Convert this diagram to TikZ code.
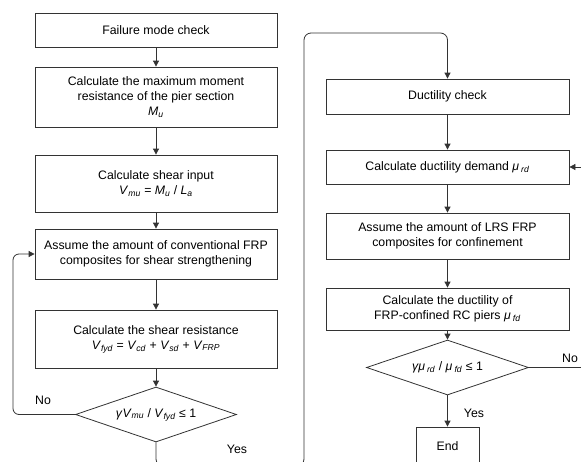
\documentclass[tikz,border=0pt]{standalone}
\usepackage{fontspec}
\setmainfont{Liberation Sans}
\usetikzlibrary{arrows.meta,shapes.geometric}
\newcommand{\iv}[2]{\textit{#1}\textsubscript{\textit{#2}}}
\begin{document}
\begin{tikzpicture}[x=1pt,y=-1pt,
  font=\fontsize{12.3}{15}\selectfont,
  line/.style={draw=black!80,line width=0.8pt},
  arr/.style={line,-{Triangle[length=6pt,width=6pt]}},
  box/.style={line,rectangle,align=center,inner sep=0pt,fill=white},
  dia/.style={line,diamond,aspect=2.9,inner sep=0pt,align=center}]
\clip (0,0) rectangle (581,461);
\fill[white] (0,0) rectangle (581,461);
% left column
\node[box,minimum width=242pt,minimum height=34pt] (fm) at (156,30) {Failure mode check};
\node[box,minimum width=242pt,minimum height=60pt] (mom) at (156,97) {Calculate the maximum moment\\resistance of the pier section\\\iv{M}{u}};
\node[box,minimum width=242pt,minimum height=57pt] (shear) at (156,183.5) {Calculate shear input\\\iv{V}{mu} = \iv{M}{u} / \iv{L}{a}};
\node[box,minimum width=242pt,minimum height=50pt] (assume) at (156,254) {Assume the amount of conventional FRP\\composites for shear strengthening};
\node[box,minimum width=242pt,minimum height=58pt] (resist) at (156,339) {Calculate the shear resistance\\\iv{V}{fyd} = \iv{V}{cd} + \iv{V}{sd} + \iv{V}{FRP}};
\node[dia,minimum width=161pt,minimum height=55pt] (d1) at (156,414.5) {\textit{γ}\iv{V}{mu} / \iv{V}{fyd} ≤ 1};
% right column
\node[box,minimum width=243pt,minimum height=35pt] (duct) at (447.5,96.5) {Ductility check};
\node[box,minimum width=243pt,minimum height=34pt] (demand) at (447.5,167) {Calculate ductility demand \textit{μ}\,\textsubscript{\textit{rd}}};
\node[box,minimum width=243pt,minimum height=46pt] (lrs) at (447.5,236) {Assume the amount of LRS FRP\\composites for confinement};
\node[box,minimum width=243pt,minimum height=42pt] (mufd) at (447.5,309) {Calculate the ductility of\\FRP-confined RC piers \textit{μ}\,\textsubscript{\textit{fd}}};
\node[dia,minimum width=162pt,minimum height=55pt] (d2) at (447.5,367.5) {\textit{γμ}\,\textsubscript{\textit{rd}} / \textit{μ}\,\textsubscript{\textit{fd}} ≤ 1};
\node[box,minimum width=63pt,minimum height=38pt] (end) at (447.5,446) {End};
% labels
\node (no1) at (43,400) {No};
\node (yes1) at (237,449) {Yes};
\node (no2) at (570,358) {No};
\node (yes2) at (474,413) {Yes};
% coordinates
\coordinate (L1) at (13,414.5);
\coordinate (B1) at (156,466);
\coordinate (B2) at (304,466);
\coordinate (T1) at (304,33);
\coordinate (T2) at (447.5,33);
\coordinate (R1) at (600,367.5);
\coordinate (R2) at (600,167);
% connectors
\draw[arr] (fm) -- (mom);
\draw[arr] (mom) -- (shear);
\draw[arr] (shear) -- (assume);
\draw[arr] (assume) -- (resist);
\draw[arr] (resist) -- (d1);
\draw[arr,rounded corners=6pt] (d1.west) -- (L1) |- (assume.west);
\draw[arr,rounded corners=7pt] (d1.south) -- (B1) -- (B2) -- (T1) -- (T2) -- (duct.north);
\draw[arr] (duct) -- (demand);
\draw[arr] (demand) -- (lrs);
\draw[arr] (lrs) -- (mufd);
\draw[arr] (mufd) -- (d2);
\draw[arr] (d2) -- (end);
\draw[arr] (d2.east) -- (R1) -- (R2) -- (demand.east);
\end{tikzpicture}
\end{document}
